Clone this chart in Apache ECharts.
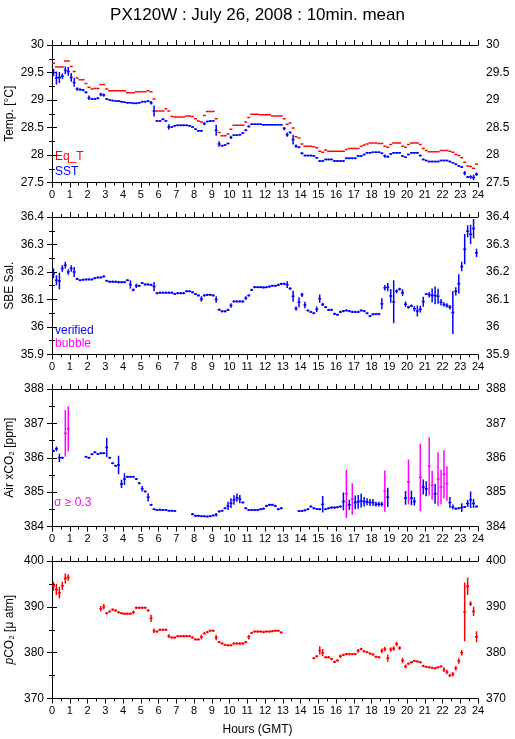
<!DOCTYPE html>
<html>
<head>
<meta charset="utf-8">
<script src="https://cdn.jsdelivr.net/npm/echarts@6/dist/echarts.min.js"></script>
<style>
html,body{margin:0;padding:0;background:#fff;}
#chart{width:515px;height:739px;}
</style>
</head>
<body>
<div id="chart"></div>
<script>
// ---- data: 10-minute means, 144 bins over 24 h ----
const eqT = [
29.67,29.60,29.60,29.60,29.71,29.71,29.61,29.52,29.40,29.37,
29.37,29.30,29.23,29.20,29.21,29.21,29.28,29.28,29.20,29.17,
29.17,29.17,29.17,29.17,29.17,29.13,29.13,29.13,29.15,29.15,
29.15,29.15,29.17,29.15,29.02,28.80,28.80,28.80,28.84,28.80,
28.70,28.69,28.69,28.69,28.69,28.71,28.71,28.70,28.66,28.62,
28.60,28.72,28.79,28.79,28.79,28.66,28.41,28.35,28.35,28.38,
28.47,28.54,28.54,28.54,28.54,28.60,28.68,28.74,28.74,28.74,
28.73,28.73,28.73,28.73,28.71,28.71,28.71,28.71,28.66,28.56,
28.58,28.49,28.33,28.31,28.20,28.16,28.16,28.16,28.15,28.13,
28.07,28.05,28.09,28.07,28.07,28.07,28.07,28.07,28.07,28.10,
28.12,28.12,28.12,28.12,28.16,28.18,28.20,28.22,28.22,28.22,
28.21,28.21,28.16,28.14,28.19,28.22,28.22,28.22,28.16,28.14,
28.19,28.22,28.22,28.22,28.19,28.12,28.08,28.06,28.06,28.06,
28.06,28.08,28.08,28.08,28.07,28.05,28.01,27.99,27.95,27.87,
27.80,27.79,27.76,27.83];

const sst = [
29.50,29.40,29.41,29.43,29.54,29.52,29.41,29.32,29.20,29.19,
29.18,29.14,29.04,29.02,29.02,29.03,29.10,29.09,29.02,29.00,
28.99,28.98,28.98,28.97,28.96,28.95,28.95,28.94,28.94,28.95,
28.97,28.97,28.98,28.95,28.80,28.62,28.62,28.65,28.62,28.51,
28.51,28.53,28.54,28.54,28.54,28.54,28.53,28.51,28.47,28.44,
28.44,28.57,28.61,28.62,28.62,28.45,28.20,28.17,28.18,28.21,
28.32,28.36,28.36,28.37,28.40,28.45,28.52,28.56,28.56,28.56,
28.56,28.55,28.55,28.55,28.55,28.55,28.55,28.55,28.48,28.37,
28.41,28.28,28.16,28.14,28.03,27.99,27.99,27.99,27.98,27.95,
27.89,27.89,27.92,27.92,27.92,27.89,27.89,27.89,27.89,27.94,
27.94,27.94,27.94,27.98,27.98,28.01,28.04,28.04,28.05,28.05,
28.05,28.03,27.98,27.97,28.02,28.04,28.04,28.04,27.98,27.96,
28.01,28.04,28.04,28.04,27.99,27.92,27.90,27.88,27.88,27.88,
27.88,27.90,27.90,27.90,27.88,27.86,27.83,27.80,27.78,27.67,
27.60,27.60,27.59,27.65];

const sstSd = [
.07,.12,.10,.05,.07,.08,.08,.08,.03,.02,
.02,.02,.04,.015,.015,.015,.03,.03,.015,.015,
.015,.015,.015,.015,.015,.015,.015,.015,.015,.015,
.015,.015,.015,.03,.10,.015,.015,.02,.015,.05,
.015,.015,.015,.015,.015,.015,.015,.015,.015,.015,
.015,.03,.015,.015,.015,.10,.05,.015,.015,.015,
.03,.015,.015,.015,.015,.02,.02,.015,.015,.015,
.015,.015,.015,.015,.015,.015,.015,.015,.03,.04,
.02,.09,.03,.015,.02,.015,.015,.015,.015,.015,
.015,.015,.015,.015,.015,.015,.015,.015,.015,.015,
.015,.015,.015,.015,.015,.015,.015,.015,.015,.015,
.015,.015,.03,.02,.015,.015,.015,.015,.015,.015,
.015,.015,.015,.015,.015,.015,.015,.015,.015,.015,
.015,.015,.015,.015,.015,.015,.015,.015,.015,.04,
.02,.03,.05,.03];

const sal = [
36.195,36.17,36.167,36.213,36.225,36.2,36.213,36.2,36.175,36.17,
36.172,36.173,36.173,36.173,36.178,36.18,36.18,36.184,36.168,36.165,
36.165,36.165,36.163,36.163,36.163,36.17,36.155,36.135,36.15,36.15,
36.16,36.155,36.155,36.153,36.147,36.123,36.125,36.125,36.125,36.125,
36.125,36.12,36.123,36.123,36.123,36.13,36.13,36.126,36.12,36.115,
36.102,36.115,36.117,36.117,36.115,36.1,36.063,36.057,36.057,36.062,
36.078,36.093,36.093,36.093,36.093,36.105,36.115,36.135,36.145,36.145,
36.145,36.144,36.145,36.147,36.15,36.15,36.153,36.157,36.157,36.154,
36.14,36.112,36.067,36.09,36.117,36.08,36.06,36.055,36.05,36.065,
36.103,36.082,36.072,36.062,36.062,36.048,36.045,36.055,36.058,36.06,
36.058,36.055,36.055,36.055,36.06,36.058,36.05,36.04,36.046,36.047,
36.047,36.085,36.143,36.145,36.113,36.092,36.13,36.138,36.125,36.083,
36.072,36.077,36.066,36.058,36.065,36.092,36.12,36.117,36.115,36.115,
36.112,36.09,36.082,36.078,36.072,36.053,36.13,36.157,36.22,36.283,
36.348,36.337,36.358,36.27];

const salSd = [
.018,.018,.03,.012,.012,.01,.012,.018,.004,.004,
.004,.004,.004,.004,.004,.004,.004,.004,.004,.004,
.004,.004,.004,.004,.004,.004,.015,.005,.008,.004,
.004,.004,.004,.004,.017,.004,.004,.004,.004,.004,
.004,.004,.004,.004,.004,.004,.004,.004,.004,.004,
.01,.004,.004,.004,.004,.012,.004,.004,.004,.004,
.008,.004,.004,.004,.004,.007,.004,.004,.004,.004,
.004,.004,.004,.004,.004,.004,.004,.004,.004,.012,
.005,.02,.008,.018,.008,.012,.004,.004,.004,.01,
.015,.006,.004,.004,.004,.004,.004,.004,.004,.004,
.004,.004,.004,.004,.004,.004,.004,.004,.004,.004,
.004,.02,.01,.015,.025,.078,.007,.005,.012,.01,
.005,.005,.01,.02,.012,.018,.004,.01,.025,.032,
.027,.012,.008,.008,.008,.078,.015,.035,.017,.055,
.022,.035,.035,.015];

const xco2 = [
386.2,386.26,386.0,386.0,386.71,386.84,null,null,null,null,
null,386.03,386.0,386.1,386.16,386.11,386.13,386.13,386.3,386.0,
385.84,385.77,385.79,385.24,385.38,385.45,385.45,385.45,385.38,385.26,
385.1,385.02,384.85,384.63,384.5,384.48,384.49,384.48,384.48,384.46,
384.46,384.45,null,null,null,null,null,384.36,384.31,384.31,
384.3,384.3,384.29,384.3,384.32,384.34,384.44,384.46,384.53,384.6,
384.68,384.77,384.84,384.8,384.7,384.53,384.48,384.48,384.48,384.48,
384.5,384.52,384.6,384.63,384.63,384.6,384.5,384.53,null,null,
null,null,null,384.45,384.45,384.47,384.5,384.58,384.53,384.51,
384.5,384.65,384.5,384.53,384.55,384.55,384.56,384.58,384.73,384.95,
384.63,384.8,384.7,384.72,384.75,384.72,384.72,384.7,384.7,384.65,
384.65,384.65,385.03,384.85,null,null,null,null,null,384.83,
385.3,384.83,384.73,null,385.43,385.15,385.1,385.75,385.2,384.95,
385.38,385.15,385.52,385.25,384.7,384.57,384.52,384.53,384.55,384.57,
384.67,384.78,384.67,384.58];

const xco2Sd = [
.03,.07,.12,.03,.68,.66,.03,.03,.03,.03,
.03,.03,.03,.03,.03,.03,.03,.03,.28,.03,
.03,.03,.27,.12,.17,.03,.03,.03,.03,.03,
.08,.03,.12,.03,.03,.03,.03,.03,.03,.03,
.03,.03,.03,.03,.03,.03,.03,.03,.03,.03,
.03,.03,.03,.03,.03,.05,.03,.03,.03,.12,
.14,.14,.12,.12,.03,.03,.03,.03,.03,.03,
.03,.03,.03,.03,.03,.03,.03,.03,.03,.03,
.03,.03,.03,.03,.03,.03,.03,.03,.03,.03,
.03,.24,.03,.03,.03,.03,.03,.03,.26,.70,
.15,.46,.20,.20,.20,.14,.10,.10,.10,.07,
.07,.07,.60,.28,.03,.03,.03,.03,.03,.20,
.65,.21,.12,.03,.98,.22,.22,.85,.42,.29,
.78,.50,.70,.50,.16,.07,.03,.03,.13,.03,
.10,.24,.13,.03];

const pco2 = [
394.5,393.8,393.1,394.6,396.2,396.4,null,null,null,null,
null,null,null,null,null,null,389.6,390.0,388.6,389.0,
389.4,389.2,388.8,388.6,388.5,388.5,388.5,388.8,389.8,389.8,
389.8,389.8,389.2,387.5,384.8,384.6,385.0,385.0,385.0,383.6,
383.3,383.3,383.6,383.6,383.6,383.6,383.6,383.3,382.9,382.9,
383.4,384.2,384.5,384.8,384.8,383.3,382.3,382.0,381.7,381.6,
381.6,382.0,382.0,382.0,382.0,382.3,383.4,384.3,384.6,384.6,
384.6,384.5,384.6,384.6,384.7,384.8,384.8,384.4,null,null,
null,null,null,null,null,null,null,null,378.8,379.2,
380.5,380.0,379.0,379.0,378.6,378.0,378.3,379.2,379.5,379.7,
379.7,379.7,379.7,380.4,380.8,380.3,380.1,379.8,379.6,379.1,
379.0,380.4,380.8,378.8,380.7,380.9,381.9,381.0,378.3,377.0,
377.6,377.9,378.2,378.1,377.9,377.1,376.9,376.8,376.7,376.6,
376.8,377.0,376.3,375.8,375.0,375.3,376.6,378.2,380.0,388.9,
394.5,390.7,389.0,383.5];

const pco2Sd = [
1.0,1.2,1.3,0.9,1.1,0.7,.25,.25,.25,.25,
.25,.25,.25,.25,.25,.25,.6,.6,.25,.25,
.25,.25,.25,.25,.25,.25,.25,.4,.25,.25,
.25,.25,.25,.8,.5,.25,.25,.25,.25,.4,
.25,.25,.25,.25,.25,.25,.25,.25,.25,.25,
.5,.25,.25,.25,.25,.6,.25,.25,.25,.25,
.25,.25,.25,.25,.25,.25,.5,.25,.25,.25,
.25,.25,.25,.25,.25,.25,.25,.25,.25,.25,
.25,.25,.25,.25,.25,.25,.25,.25,.25,.25,
.9,.8,.25,.25,.25,.25,.25,.4,.25,.25,
.25,.25,.25,.4,.25,.25,.25,.25,.25,.25,
.25,.5,.5,.8,.5,.5,.5,.4,.6,.4,
.25,.25,.25,.25,.25,.25,.25,.25,.25,.25,
.25,.25,.5,.5,.3,.5,.5,.6,.6,6.4,
1.9,.5,1.0,1.2];

const yRanges = [
  {min: 27.5, max: 30, interval: 0.5},
  {min: 35.9, max: 36.4, interval: 0.1},
  {min: 384, max: 388, interval: 1},
  {min: 370, max: 400, interval: 10}
];
const yNames = ['Temp. [°C]', 'SBE Sal.', 'Air xCO₂ [ppm]', '{i|p}CO₂ [μ atm]'];

// ---- build ----
const BIN = 1 / 6;           // 10 minutes in hours
const hours = sst.map((_, i) => (i + 0.5) * BIN);
const FONT = '"Liberation Sans", Arial, Helvetica, sans-serif';
const RED = '#ff0000', BLUE = '#0000ff', MAG = '#ff00ff';

function pack(vals, sds) {
  const out = [];
  vals.forEach((v, i) => { if (v !== null) out.push([hours[i], v, sds ? sds[i] : 0]); });
  return out;
}

function crossRenderer(color, withVertical, altColor, threshold) {
  return function (params, api) {
    const t = api.value(0), v = api.value(1), sd = api.value(2);
    const c = (altColor && sd >= threshold) ? altColor : color;
    const a = api.coord([t - BIN / 2, v]);
    const b = api.coord([t + BIN / 2, v]);
    const children = [{
      type: 'line',
      shape: {x1: a[0], y1: a[1], x2: b[0], y2: b[1]},
      style: {stroke: c, lineWidth: 1.5}
    }];
    if (withVertical) {
      const p = api.coord([t, v + sd]);
      const q = api.coord([t, v - sd]);
      children.push({
        type: 'line',
        shape: {x1: p[0], y1: p[1], x2: q[0], y2: q[1]},
        style: {stroke: c, lineWidth: 1.5}
      });
    }
    return {type: 'group', children};
  };
}

const tops = [45, 217, 389, 561];
const H = 137.5;
const grids = tops.map(t => ({left: 52, right: 37, top: t, height: H,
  containLabel: false, outerBoundsMode: 'none'}));

const axisLine = {show: true, lineStyle: {color: '#000', width: 1}};
const tick = {show: true, length: 5, inside: false, lineStyle: {color: '#000', width: 1}};
const minor = {show: true, splitNumber: 2, length: 3, lineStyle: {color: '#000', width: 1}};

const xAxes = [], yAxes = [];
tops.forEach((t, g) => {
  xAxes.push({
    type: 'value', gridIndex: g, position: 'bottom', min: 0, max: 24, interval: 1,
    axisLine, axisTick: tick, minorTick: minor, splitLine: {show: false},
    axisLabel: {show: true, color: '#000', fontSize: 11, fontFamily: FONT, margin: 7}
  });
  xAxes.push({
    type: 'value', gridIndex: g, position: 'top', min: 0, max: 24, interval: 1,
    axisLine, axisTick: tick, minorTick: minor, splitLine: {show: false},
    axisLabel: {show: false}
  });
  const r = yRanges[g];
  yAxes.push({
    type: 'value', gridIndex: g, position: 'left', min: r.min, max: r.max, interval: r.interval,
    axisLine, axisTick: tick, minorTick: minor, splitLine: {show: false},
    axisLabel: {color: '#000', fontSize: 12, fontFamily: FONT, margin: 8},
    name: yNames[g], nameLocation: 'middle', nameRotate: 90, nameGap: 36,
    nameMoveOverlap: false,
    nameTextStyle: {color: '#000', fontSize: 12, fontFamily: FONT,
      rich: {i: {fontStyle: 'italic', fontSize: 12, fontFamily: FONT, color: '#000'}}}
  });
  yAxes.push({
    type: 'value', gridIndex: g, position: 'right', min: r.min, max: r.max, interval: r.interval,
    axisLine, axisTick: tick, minorTick: minor, splitLine: {show: false},
    axisLabel: {color: '#000', fontSize: 12, fontFamily: FONT, margin: 8}
  });
});

function series(g, data, render) {
  return {type: 'custom', xAxisIndex: g * 2, yAxisIndex: g * 2, data, renderItem: render,
          clip: true, animation: false, silent: true};
}

const option = {
  backgroundColor: '#fff',
  animation: false,
  title: {
    text: 'PX120W : July 26, 2008 : 10min. mean', left: 'center', top: 2,
    textStyle: {fontSize: 17, fontWeight: 'normal', color: '#000', fontFamily: FONT}
  },
  grid: grids,
  xAxis: xAxes,
  yAxis: yAxes,
  series: [
    series(0, pack(eqT, null), crossRenderer(RED, false)),
    series(0, pack(sst, sstSd), crossRenderer(BLUE, true)),
    series(1, pack(sal, salSd), crossRenderer(BLUE, true)),
    series(2, pack(xco2, xco2Sd), crossRenderer(BLUE, true, MAG, 0.3)),
    series(3, pack(pco2, pco2Sd), crossRenderer(RED, true))
  ],
  graphic: [
    {type: 'text', left: 55, top: 151, style: {text: 'Eq_T', fill: RED, font: '12px ' + FONT}},
    {type: 'text', left: 55, top: 166, style: {text: 'SST', fill: BLUE, font: '12px ' + FONT}},
    {type: 'text', left: 55, top: 325, style: {text: 'verified', fill: BLUE, font: '12px ' + FONT}},
    {type: 'text', left: 55, top: 338, style: {text: 'bubble', fill: MAG, font: '12px ' + FONT}},
    {type: 'text', left: 54, top: 497, style: {text: 'σ ≥ 0.3', fill: MAG, font: '12px ' + FONT}},
    {type: 'text', left: 'center', top: 724, style: {text: 'Hours (GMT)', fill: '#000', font: '12px ' + FONT}}
  ]
};

const chart = echarts.init(document.getElementById('chart'), null, {renderer: 'canvas'});
chart.setOption(option);
</script>
</body>
</html>
